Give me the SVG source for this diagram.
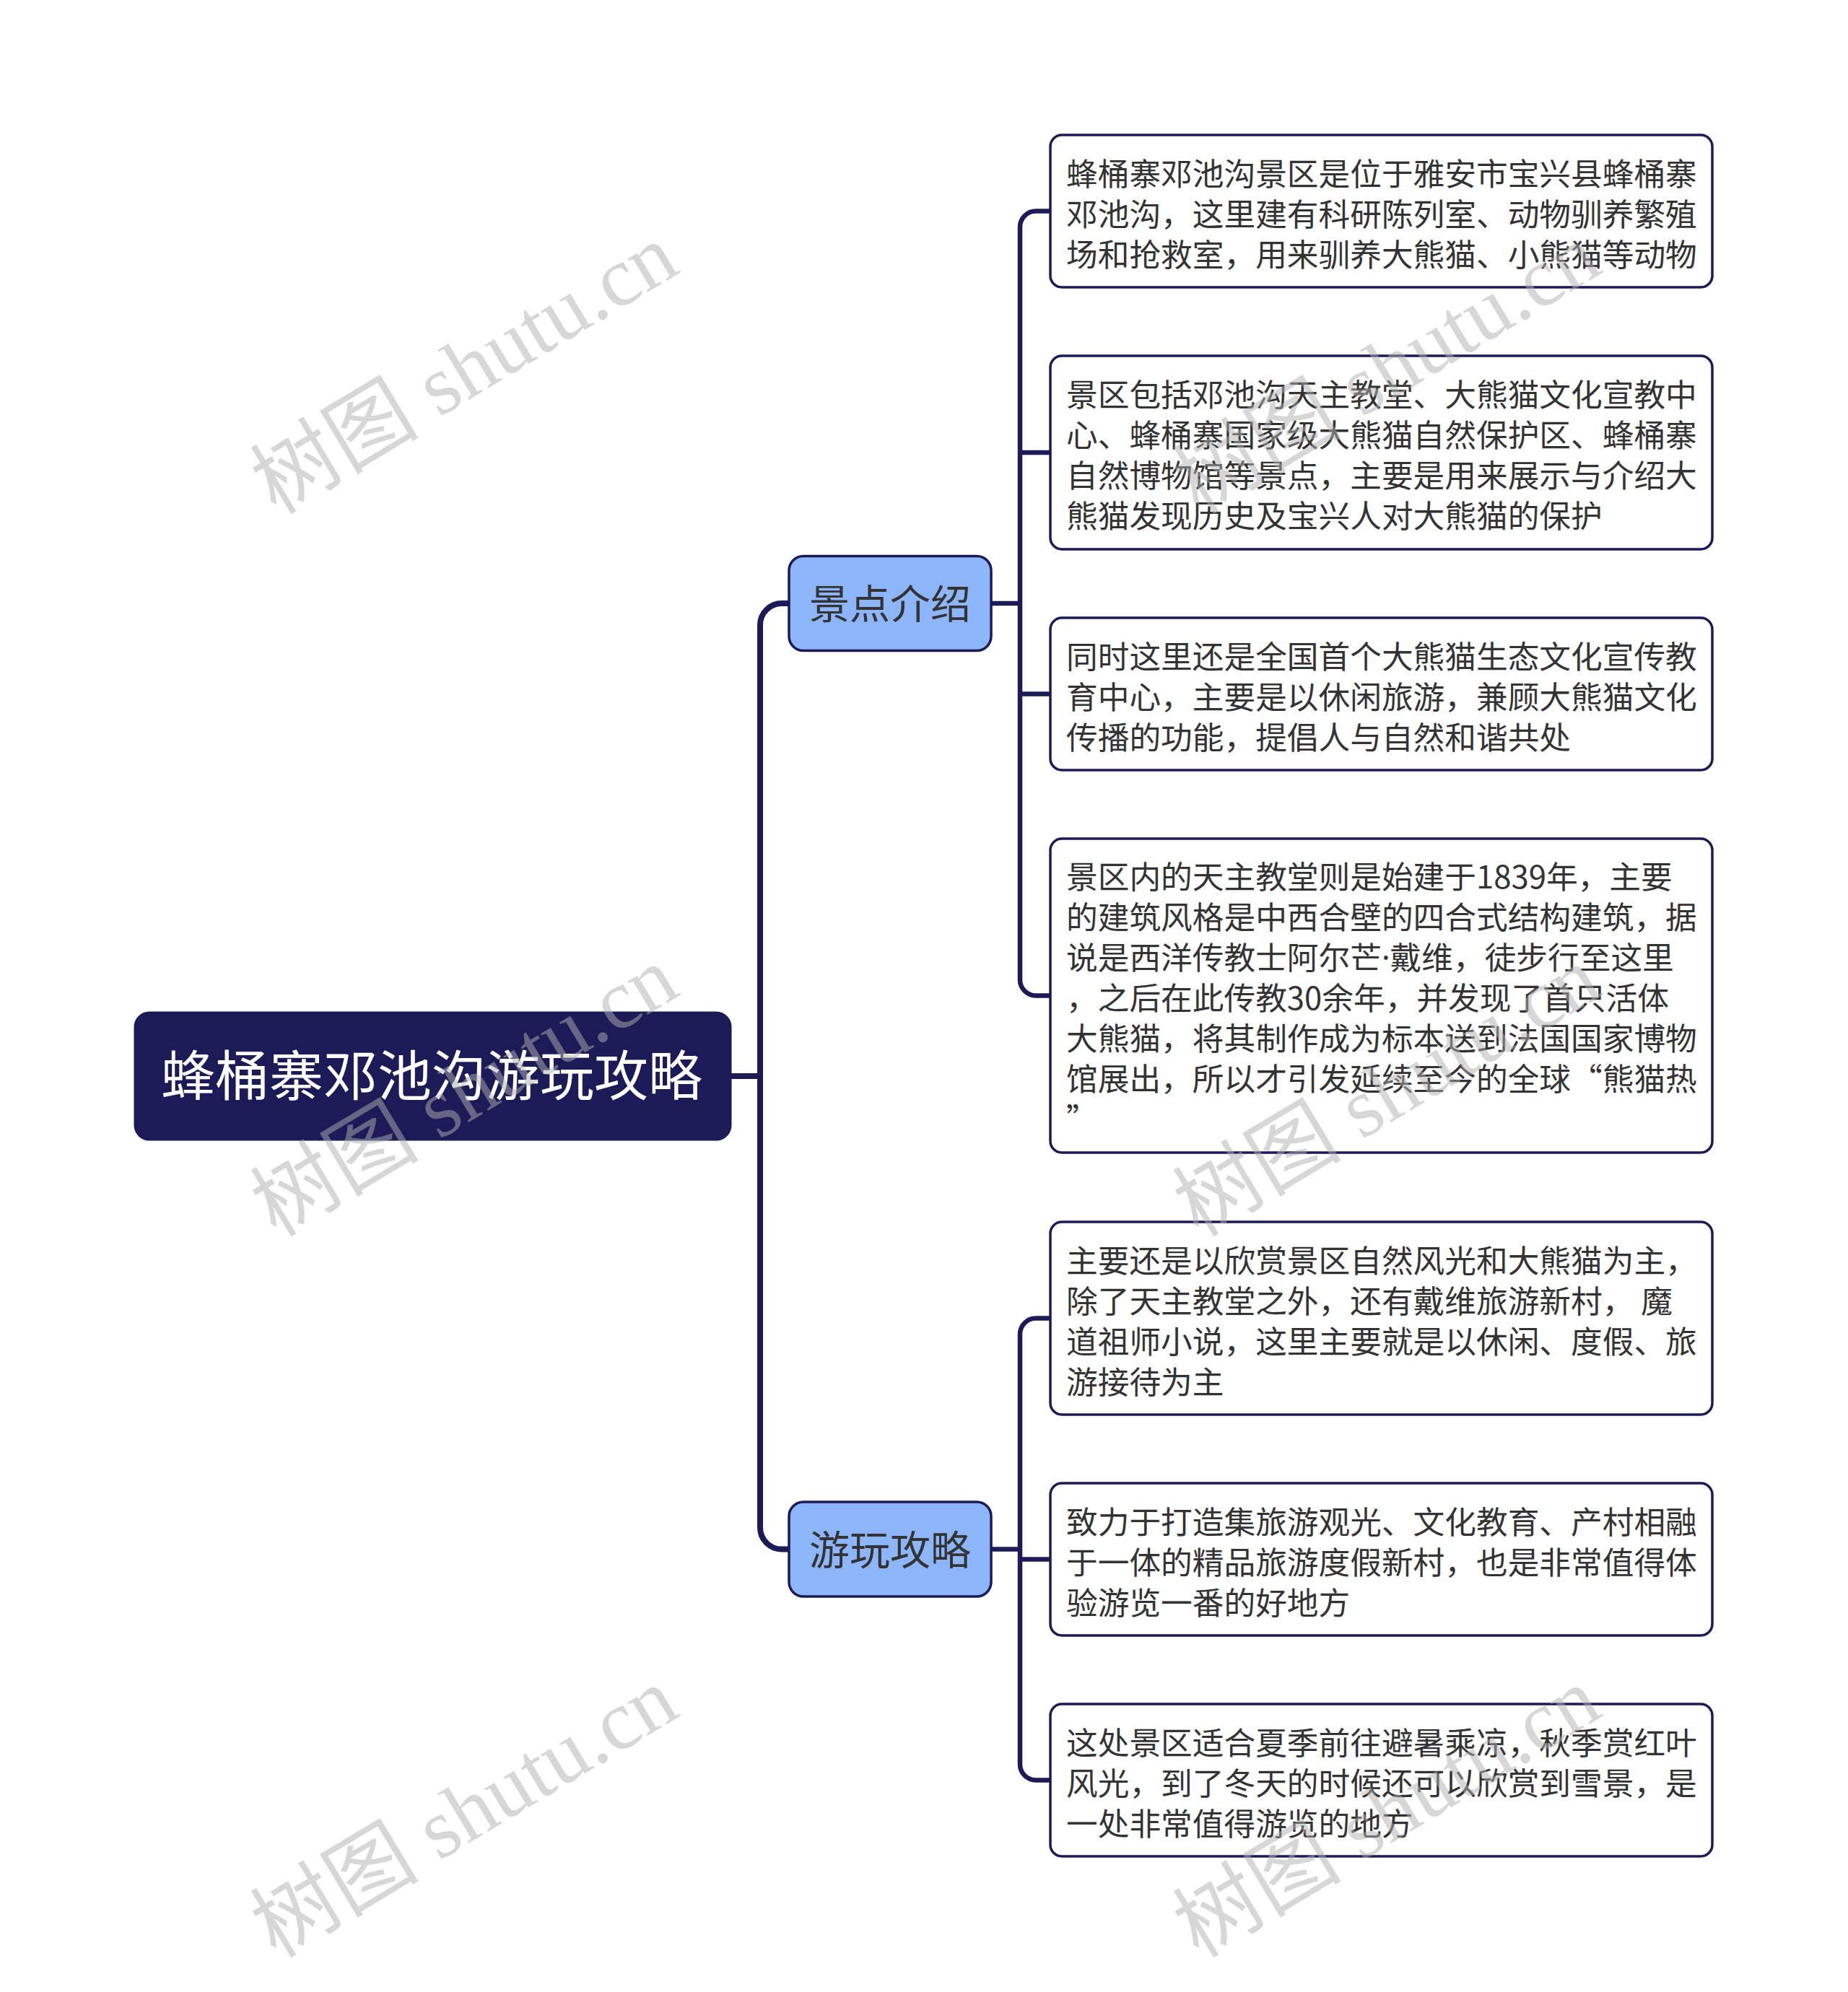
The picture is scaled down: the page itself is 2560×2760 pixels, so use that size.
<svg xmlns="http://www.w3.org/2000/svg" width="2560" height="2760" viewBox="0 0 2560 2760">
<style>
.root rect{fill:#1d1b57;stroke:#1d1b57;stroke-width:3}
.root text{fill:#ffffff;font-size:75px;font-family:"Noto Sans CJK SC","Noto Sans",sans-serif;text-anchor:middle}
.branch rect{fill:#8db5fa;stroke:#1d1b57;stroke-width:3.5}
.branch text{fill:#333333;font-size:56px;font-family:"Noto Sans CJK SC","Noto Sans",sans-serif;text-anchor:middle}
.leaf rect{fill:#ffffff;stroke:#1d1b57;stroke-width:3.5}
.leaf text{fill:#333333;font-size:43.7px;font-family:"Noto Sans CJK SC","Noto Sans",sans-serif}
.narrow{font-family:"Noto Sans","DejaVu Sans",sans-serif}
.c1{fill:none;stroke:#1d1b57;stroke-width:8}
.c2{fill:none;stroke:#1d1b57;stroke-width:6.5}
.wm{fill:#b0b0b0;fill-opacity:0.5;font-size:117px;font-family:"Liberation Serif","Noto Sans CJK SC",serif;text-anchor:middle}
</style>
<rect x="0" y="0" width="2560" height="2760" fill="#ffffff"/>
<g id="connectors">
<path class="c1" d="M1012,1491 H1053"/>
<path class="c1" d="M1093,836 H1083 A30,30 0 0 0 1053,866 V2116.5 A30,30 0 0 0 1083,2146.5 H1093"/>
<path class="c2" d="M1373,836 H1413"/>
<path class="c2" d="M1455,292.5 H1435 A22,22 0 0 0 1413,314.5 V1357.5 A22,22 0 0 0 1435,1379.5 H1455"/>
<path class="c2" d="M1413,627 H1455"/>
<path class="c2" d="M1413,961.5 H1455"/>
<path class="c2" d="M1373,2146.5 H1413"/>
<path class="c2" d="M1455,1826.5 H1435 A22,22 0 0 0 1413,1848.5 V2444.5 A22,22 0 0 0 1435,2466.5 H1455"/>
<path class="c2" d="M1413,2160.5 H1455"/>
</g>
<g id="root" class="root">
<rect x="187" y="1403" width="825" height="176" rx="20"/>
<text x="598" y="1518">蜂桶寨邓池沟游玩攻略</text>
</g>
<g id="branch1" class="branch">
<rect x="1093" y="770.5" width="280" height="131" rx="20"/>
<text x="1233" y="857">景点介绍</text>
</g>
<g id="branch2" class="branch">
<rect x="1093" y="2081" width="280" height="131" rx="20"/>
<text x="1233" y="2167.5">游玩攻略</text>
</g>
<g id="leaf1" class="leaf">
<rect x="1455" y="187" width="917" height="211" rx="16"/>
<text x="1477" y="257">蜂桶寨邓池沟景区是位于雅安市宝兴县蜂桶寨</text>
<text x="1477" y="313">邓池沟，这里建有科研陈列室、动物驯养繁殖</text>
<text x="1477" y="369">场和抢救室，用来驯养大熊猫、小熊猫等动物</text>
</g>
<g id="leaf2" class="leaf">
<rect x="1455" y="493" width="917" height="268" rx="16"/>
<text x="1477" y="563">景区包括邓池沟天主教堂、大熊猫文化宣教中</text>
<text x="1477" y="619">心、蜂桶寨国家级大熊猫自然保护区、蜂桶寨</text>
<text x="1477" y="675">自然博物馆等景点，主要是用来展示与介绍大</text>
<text x="1477" y="731">熊猫发现历史及宝兴人对大熊猫的保护</text>
</g>
<g id="leaf3" class="leaf">
<rect x="1455" y="856" width="917" height="211" rx="16"/>
<text x="1477" y="926">同时这里还是全国首个大熊猫生态文化宣传教</text>
<text x="1477" y="982">育中心，主要是以休闲旅游，兼顾大熊猫文化</text>
<text x="1477" y="1038">传播的功能，提倡人与自然和谐共处</text>
</g>
<g id="leaf4" class="leaf">
<rect x="1455" y="1162" width="917" height="435" rx="16"/>
<text x="1477" y="1231">景区内的天主教堂则是始建于1839年，主要</text>
<text x="1477" y="1287">的建筑风格是中西合壁的四合式结构建筑，据</text>
<text x="1477" y="1343">说是西洋传教士阿尔芒<tspan class="narrow">·</tspan>戴维，徒步行至这里</text>
<text x="1477" y="1399">，之后在此传教30余年，并发现了首只活体</text>
<text x="1477" y="1455">大熊猫，将其制作成为标本送到法国国家博物</text>
<text x="1477" y="1511">馆展出，所以才引发延续至今的全球“熊猫热</text>
<text x="1477" y="1567">”</text>
</g>
<g id="leaf5" class="leaf">
<rect x="1455" y="1693" width="917" height="267" rx="16"/>
<text x="1477" y="1763">主要还是以欣赏景区自然风光和大熊猫为主，</text>
<text x="1477" y="1819">除了天主教堂之外，还有戴维旅游新村， 魔</text>
<text x="1477" y="1875">道祖师小说，这里主要就是以休闲、度假、旅</text>
<text x="1477" y="1931">游接待为主</text>
</g>
<g id="leaf6" class="leaf">
<rect x="1455" y="2055" width="917" height="211" rx="16"/>
<text x="1477" y="2125">致力于打造集旅游观光、文化教育、产村相融</text>
<text x="1477" y="2181">于一体的精品旅游度假新村，也是非常值得体</text>
<text x="1477" y="2237">验游览一番的好地方</text>
</g>
<g id="leaf7" class="leaf">
<rect x="1455" y="2361" width="917" height="211" rx="16"/>
<text x="1477" y="2431">这处景区适合夏季前往避暑乘凉，秋季赏红叶</text>
<text x="1477" y="2487">风光，到了冬天的时候还可以欣赏到雪景，是</text>
<text x="1477" y="2543">一处非常值得游览的地方</text>
</g>
<g id="watermarks">
<text class="wm" transform="translate(643,511) rotate(-31)" dy="40">树图 shutu.cn</text>
<text class="wm" transform="translate(643,1512) rotate(-31)" dy="40">树图 shutu.cn</text>
<text class="wm" transform="translate(643,2511) rotate(-31)" dy="40">树图 shutu.cn</text>
<text class="wm" transform="translate(1921,511) rotate(-31)" dy="40">树图 shutu.cn</text>
<text class="wm" transform="translate(1921,1512) rotate(-31)" dy="40">树图 shutu.cn</text>
<text class="wm" transform="translate(1921,2511) rotate(-31)" dy="40">树图 shutu.cn</text>
</g>
</svg>
